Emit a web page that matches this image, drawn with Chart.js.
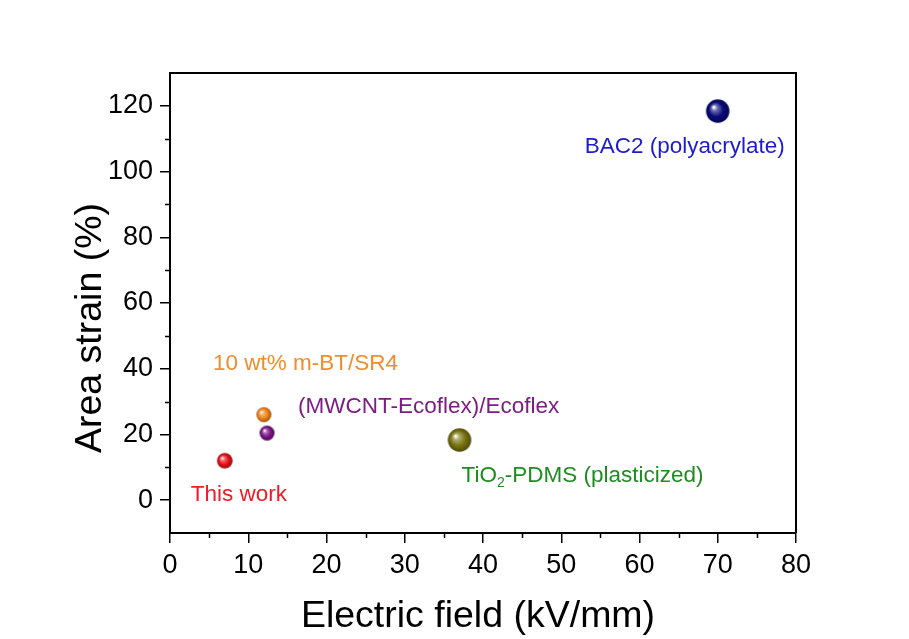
<!DOCTYPE html>
<html>
<head>
<meta charset="utf-8">
<script src="https://cdn.jsdelivr.net/npm/chart.js@4/dist/chart.umd.min.js"></script>
<style>
  html, body { margin: 0; padding: 0; background: #fff; }
  #wrap { width: 909px; height: 639px; }
</style>
</head>
<body>
<div id="wrap"><canvas id="chart" width="909" height="639"></canvas></div>
<script>
// data
const materials = ['This work', '10 wt% m-BT/SR4', '(MWCNT-Ecoflex)/Ecoflex', 'TiO2-PDMS (plasticized)', 'BAC2 (polyacrylate)'];
const electricField = [7, 12, 12.4, 37, 70];
const areaStrain = [12, 26, 20.4, 18.3, 118.4];

const xMajorTicks = [0, 10, 20, 30, 40, 50, 60, 70, 80];
const xMinorTicks = [5, 15, 25, 35, 45, 55, 65, 75];
const yMajorTicks = [0, 20, 40, 60, 80, 100, 120];
const yMinorTicks = [10, 30, 50, 70, 90, 110];

const xTitle = 'Electric field (kV/mm)';
const yTitle = 'Area strain (%)';

// styling
const sphereColors = ['#e8101a', '#f08418', '#7a1488', '#7a7410', '#0a0a7a'];
const sphereRadius = [7.8, 7.5, 7.5, 11.7, 11.7];
const labelColors = ['#ee1c24', '#f08c2a', '#7c1d84', '#1f8c22', '#1c1cc8'];
const labelOffsets = [[-34, 34], [-51, -51], [31, -26], [2, 36], [-133, 36]];

const FONT = '"Liberation Sans", Arial, sans-serif';

function shade(hex, f) {
  const n = parseInt(hex.slice(1), 16);
  let r = (n >> 16) & 255, g = (n >> 8) & 255, b = n & 255;
  if (f < 0) { r *= 1 + f; g *= 1 + f; b *= 1 + f; }
  else { r += (255 - r) * f; g += (255 - g) * f; b += (255 - b) * f; }
  return `rgb(${Math.round(r)},${Math.round(g)},${Math.round(b)})`;
}

function makeSphere(color, r) {
  const size = Math.ceil(r * 2 + 2);
  const c = document.createElement('canvas');
  c.width = size; c.height = size;
  const ctx = c.getContext('2d');
  const cx = size / 2, cy = size / 2;
  const g = ctx.createRadialGradient(cx - r * 0.35, cy - r * 0.35, r * 0.05, cx, cy, r);
  g.addColorStop(0, '#ffffff');
  g.addColorStop(0.22, shade(color, 0.4));
  g.addColorStop(0.6, color);
  g.addColorStop(1, shade(color, -0.35));
  ctx.fillStyle = g;
  ctx.beginPath();
  ctx.arc(cx, cy, r, 0, Math.PI * 2);
  ctx.fill();
  return c;
}

const framePlugin = {
  id: 'frame',
  afterDraw(chart) {
    const { ctx, chartArea: a, scales: { x, y } } = chart;
    ctx.save();
    ctx.strokeStyle = '#000';
    ctx.lineWidth = 2;
    ctx.beginPath();
    ctx.moveTo(a.left, a.top); ctx.lineTo(a.right, a.top); ctx.lineTo(a.right, a.bottom);
    ctx.stroke();
    ctx.lineWidth = 1.5;
    ctx.beginPath();
    yMinorTicks.forEach(v => {
      const py = Math.round(y.getPixelForValue(v)) + 0.5;
      ctx.moveTo(a.left - 5, py); ctx.lineTo(a.left, py);
    });
    xMinorTicks.forEach(v => {
      const px = Math.round(x.getPixelForValue(v)) + 0.5;
      ctx.moveTo(px, a.bottom); ctx.lineTo(px, a.bottom + 5);
    });
    ctx.stroke();

    // axis titles (placed like the original figure, slightly off-centre)
    ctx.fillStyle = '#000';
    ctx.font = '37.5px ' + FONT;
    ctx.textAlign = 'center';
    ctx.textBaseline = 'middle';
    ctx.fillText(xTitle, 478, 617);
    ctx.translate(91, 328);
    ctx.rotate(-Math.PI / 2);
    ctx.fillText(yTitle, 0, 0);
    ctx.restore();
  }
};

const labelPlugin = {
  id: 'pointLabels',
  afterDatasetsDraw(chart) {
    const ctx = chart.ctx;
    const pts = chart.getDatasetMeta(0).data;
    ctx.save();
    ctx.textBaseline = 'middle';
    ctx.textAlign = 'left';
    materials.forEach((name, i) => {
      const p = pts[i];
      let lx = p.x + labelOffsets[i][0];
      const ly = p.y + labelOffsets[i][1];
      ctx.fillStyle = labelColors[i];
      ctx.font = '22.5px ' + FONT;
      if (name.startsWith('TiO2')) {
        ctx.fillText('TiO', lx, ly);
        lx += ctx.measureText('TiO').width;
        ctx.font = '14px ' + FONT;
        ctx.fillText('2', lx, ly + 7);
        lx += ctx.measureText('2').width;
        ctx.font = '22.5px ' + FONT;
        ctx.fillText(name.slice(4), lx, ly);
      } else {
        ctx.fillText(name, lx, ly);
      }
    });
    ctx.restore();
  }
};

const axisLine = { display: true, color: '#000', width: 2 };
const axisGrid = { drawOnChartArea: false, drawTicks: true, tickLength: 10, color: '#000', lineWidth: 1.5 };

new Chart(document.getElementById('chart'), {
  type: 'scatter',
  data: {
    datasets: [{
      data: electricField.map((v, i) => ({ x: v, y: areaStrain[i] })),
      pointStyle: sphereColors.map((c, i) => makeSphere(c, sphereRadius[i])),
      pointRadius: sphereRadius,
      pointHoverRadius: sphereRadius,
    }]
  },
  options: {
    responsive: false,
    animation: false,
    layout: { padding: { top: 73, right: 113, left: 0, bottom: 0 } },
    plugins: { legend: { display: false }, tooltip: { enabled: false } },
    scales: {
      x: {
        type: 'linear', min: 0, max: 80,
        border: axisLine, grid: axisGrid,
        afterBuildTicks: s => { s.ticks = xMajorTicks.map(v => ({ value: v })); },
        afterFit: s => { s.height = 106; },
        ticks: { color: '#000', padding: 6, maxRotation: 0, font: { family: FONT, size: 27 } },
        title: { display: false }
      },
      y: {
        type: 'linear', min: -10, max: 130,
        border: axisLine, grid: axisGrid,
        afterBuildTicks: s => { s.ticks = yMajorTicks.map(v => ({ value: v })); },
        afterFit: s => { s.width = 170; },
        ticks: { color: '#000', padding: 7, font: { family: FONT, size: 27 } },
        title: { display: false }
      }
    }
  },
  plugins: [framePlugin, labelPlugin]
});
</script>
</body>
</html>
